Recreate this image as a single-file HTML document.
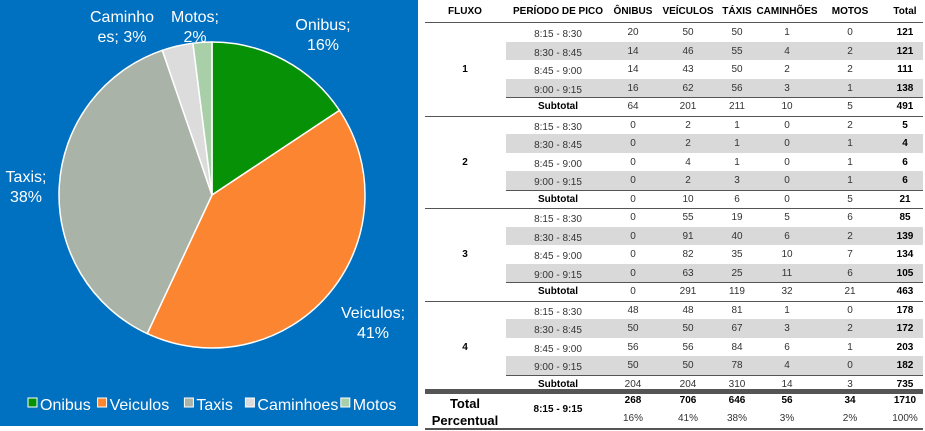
<!DOCTYPE html>
<html><head><meta charset="utf-8">
<style>
body{margin:0;width:925px;height:430px;background:#fff;position:relative;overflow:hidden;font-family:"Liberation Sans",sans-serif;}
#panel{position:absolute;left:0;top:0;width:418px;height:426px;background:#0070c0;}
.c{position:absolute;font-size:10px;color:#333;text-align:center;transform:translateX(-50%);white-space:nowrap;}
.b{font-weight:bold;color:#000;}
.gray{position:absolute;left:506px;width:417px;background:#d9d9d9;}
.ln{position:absolute;background:#555;}
</style></head><body>
<div id="panel">
<svg id="pie" width="418" height="426"></svg>
</div>
<div id="tbl"></div>
<script>
const categories=["Onibus","Veiculos","Taxis","Caminhoes","Motos"];
const values=[268,706,646,56,34];
const pctLabels=["16%","41%","38%","3%","2%"];
const colors=["#079107","#fb8530","#aab3a8","#dcdcdc","#a9cfa9"];
const NS="http://www.w3.org/2000/svg";
const svg=document.getElementById('pie');
const cx=212,cy=195,r=153;
const tot=values.reduce((a,b)=>a+b,0);
let a0=-Math.PI/2;
values.forEach((v,i)=>{
  const a1=a0+v/tot*2*Math.PI;
  const p=document.createElementNS(NS,'path');
  const large=(a1-a0)>Math.PI?1:0;
  p.setAttribute('d',`M${cx},${cy}L${cx+r*Math.cos(a0)},${cy+r*Math.sin(a0)}A${r},${r} 0 ${large} 1 ${cx+r*Math.cos(a1)},${cy+r*Math.sin(a1)}Z`);
  p.setAttribute('fill',colors[i]);p.setAttribute('stroke','#fff');p.setAttribute('stroke-width','1.5');
  
  
  svg.appendChild(p);a0=a1;
});
const labelPos=[[323,30,"Onibus;","16%"],[373,318,"Veiculos;","41%"],[26,182,"Taxis;","38%"],[122,22,"Caminho","es; 3%"],[195,22,"Motos;","2%"]];
labelPos.forEach((l,i)=>{
  for(let k=0;k<2;k++){
    const t=document.createElementNS(NS,'text');
    t.setAttribute('x',l[0]);t.setAttribute('y',l[1]+k*20);
    t.setAttribute('text-anchor','middle');t.setAttribute('fill','#fff');t.setAttribute('font-size','16');
    t.setAttribute('font-family','Liberation Sans, sans-serif');
    t.textContent=l[2+k];
    
    
    svg.appendChild(t);
  }
});
// legend
let lx=28;
categories.forEach((c,i)=>{
  const g=document.createElementNS(NS,'g');
  
  
  const rc=document.createElementNS(NS,'rect');
  rc.setAttribute('x',lx);rc.setAttribute('y',398);rc.setAttribute('width',9);rc.setAttribute('height',9);
  rc.setAttribute('fill',colors[i]);rc.setAttribute('stroke','#fff');rc.setAttribute('stroke-width','1');
  const t=document.createElementNS(NS,'text');
  t.setAttribute('x',lx+12);t.setAttribute('y',410);t.setAttribute('fill','#fff');t.setAttribute('font-size','16');
  t.setAttribute('font-family','Liberation Sans, sans-serif');
  t.textContent=c;
  g.appendChild(rc);g.appendChild(t);svg.appendChild(g);
  lx+=12+c.length*8.6+6;
});
// table
const tbl=document.getElementById('tbl');
const colX=[465,558,633,688,737,787,850,905];
const headers=["FLUXO","PERÍODO DE PICO","ÔNIBUS","VEÍCULOS","TÁXIS","CAMINHÕES","MOTOS","Total"];
const periods=["8:15 - 8:30","8:30 - 8:45","8:45 - 9:00","9:00 - 9:15"];
const rows=[
[[20,50,50,1,0,121],[14,46,55,4,2,121],[14,43,50,2,2,111],[16,62,56,3,1,138],[64,201,211,10,5,491]],
[[0,2,1,0,2,5],[0,2,1,0,1,4],[0,4,1,0,1,6],[0,2,3,0,1,6],[0,10,6,0,5,21]],
[[0,55,19,5,6,85],[0,91,40,6,2,139],[0,82,35,10,7,134],[0,63,25,11,6,105],[0,291,119,32,21,463]],
[[48,48,81,1,0,178],[50,50,67,3,2,172],[56,56,84,6,1,203],[50,50,78,4,0,182],[204,204,310,14,3,735]]];
const totals=[268,706,646,56,34,1710];
const pcts=["16%","41%","38%","3%","2%","100%"];
function cell(x,y,txt,cls,name){
  const d=document.createElement('div');d.className='c '+(cls||'');
  d.style.left=x+'px';d.style.top=y+'px';d.textContent=txt;
  
  
  tbl.appendChild(d);return d;
}
function line(x,y,w,h,name){
  const d=document.createElement('div');d.className='ln';
  d.style.left=x+'px';d.style.top=y+'px';d.style.width=w+'px';d.style.height=h+'px';
  
  
  tbl.appendChild(d);
}
headers.forEach((h,i)=>cell(colX[i],6,h,'b','header-'+i));
line(425,22,498,1,'header-line');
const rh=18.5,top0=23;
rows.forEach((g,gi)=>{
  g.forEach((r,ri)=>{
    const y=top0+(gi*5+ri)*rh;
    if(ri===1||ri===3){const d=document.createElement('div');d.className='gray';d.style.top=y+'px';d.style.height=rh+'px';
      
      
      tbl.appendChild(d);}
    const ty=y+4;
    if(ri<4)cell(colX[1],ty+2,periods[ri],'','period');else cell(colX[1],ty,'Subtotal','b','subtotal-label');
    r.forEach((v,ci)=>cell(colX[ci+2],ty,String(v),ci===5?'b':'','value'));
    if(ri===3)line(506,y+rh,417,1,'subtotal-line');
  });
  cell(colX[0],top0+(gi*5+2)*rh+4,String(gi+1),'b','fluxo-'+(gi+1));
  line(425,top0+(gi*5+5)*rh,498,1,'group-line');
});
line(425,389,498,4,'total-line');
const tl=cell(465,396,'Total','b','total-label');tl.style.fontSize='13px';
const pl=cell(465,413,'Percentual','b','percent-label');pl.style.fontSize='13px';
cell(colX[1],404,'8:15 - 9:15','b','total-period');
totals.forEach((v,i)=>cell(colX[i+2],395,String(v),'b','total-value'));
pcts.forEach((v,i)=>cell(colX[i+2],413,v,'','percent-value'));
line(425,428,498,2,'bottom-line');
</script>
</body></html>
